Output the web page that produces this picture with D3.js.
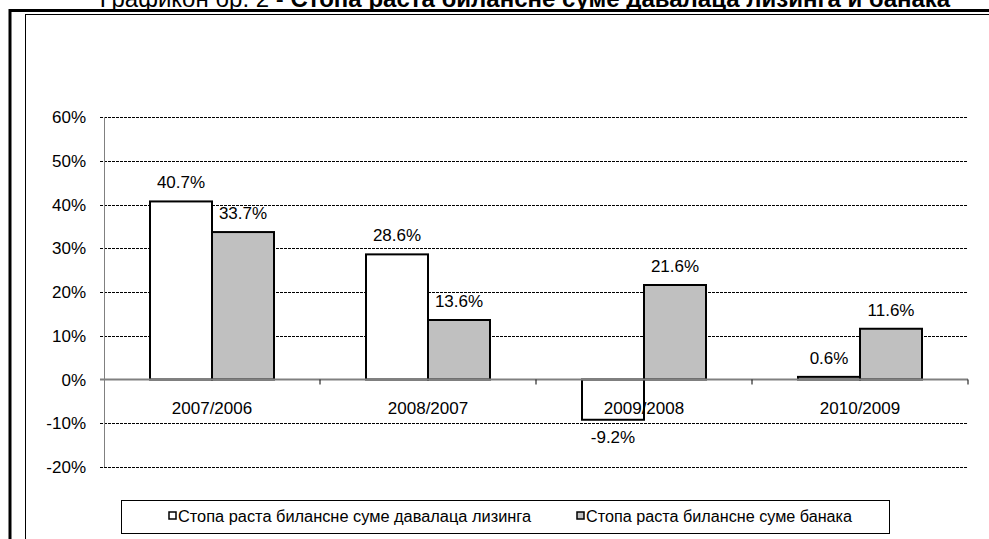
<!DOCTYPE html>
<html>
<head>
<meta charset="utf-8">
<script src="https://cdn.jsdelivr.net/npm/d3@7"></script>
<style>
  body { margin: 0; background: #fff; }
  svg { display: block; font-family: Arial, "Liberation Sans", sans-serif; }
  .grid line { stroke: #000; stroke-width: 1; stroke-dasharray: 3,1; }
</style>
</head>
<body>
<svg id="chart" width="989" height="539"></svg>
<script>
// chart values
const categories = ['2007/2006', '2008/2007', '2009/2008', '2010/2009'];
const leasing = [40.7, 28.6, -9.2, 0.6];
const banks = [33.7, 13.6, 21.6, 11.6];
const yTicks = [-20, -10, 0, 10, 20, 30, 40, 50, 60];
const seriesNames = ['Стопа раста билансне суме давалаца лизинга', 'Стопа раста билансне суме банака'];
const seriesColors = ['#ffffff', '#c0c0c0'];

const svg = d3.select('#chart');

// frame (double border, cut at right and bottom)
svg.append('line').attr('x1', 10).attr('x2', 989).attr('y1', 10.5).attr('y2', 10.5)
    .attr('stroke', '#000').attr('stroke-width', 3);
svg.append('line').attr('x1', 10).attr('x2', 10).attr('y1', 9).attr('y2', 539)
    .attr('stroke', '#000').attr('stroke-width', 3);
svg.append('line').attr('x1', 25).attr('x2', 989).attr('y1', 14.5).attr('y2', 14.5)
    .attr('stroke', '#000').attr('stroke-width', 1);
svg.append('line').attr('x1', 25.5).attr('x2', 25.5).attr('y1', 14).attr('y2', 539)
    .attr('stroke', '#000').attr('stroke-width', 1);

// title, clipped at the top of the page as in the source
const title = svg.append('text').attr('x', 525).attr('y', 7)
    .attr('text-anchor', 'middle').attr('font-size', 24);
title.append('tspan').text('Графикон бр. 2 - ');
title.append('tspan').attr('font-weight', 'bold').text('Стопа раста билансне суме давалаца лизинга и банака');

const left = 104, right = 968;
const y = d3.scaleLinear().domain([-20, 60]).range([467, 117]);
const x = d3.scaleBand().domain(categories).range([left, right]);
const bw = 62;
const pad = (x.bandwidth() - 2 * bw) / 2;

// gridlines + y labels
const grid = svg.append('g').attr('class', 'grid');
grid.selectAll('line').data(yTicks.filter(d => d !== 0)).enter().append('line')
    .attr('x1', left - 4).attr('x2', right)
    .attr('y1', d => Math.round(y(d)) + 0.5).attr('y2', d => Math.round(y(d)) + 0.5);

svg.append('g').selectAll('text').data(yTicks).enter().append('text')
    .attr('x', 86).attr('y', d => y(d) + 6)
    .attr('text-anchor', 'end').attr('font-size', 17)
    .text(d => d + '%');

// y axis
svg.append('line').attr('x1', left + 0.5).attr('x2', left + 0.5)
    .attr('y1', y(60)).attr('y2', y(-20)).attr('stroke', '#808080');

// bars
[leasing, banks].forEach((vals, s) => {
    svg.append('g').selectAll('rect').data(vals).enter().append('rect')
        .attr('x', (d, i) => x(categories[i]) + pad + s * bw)
        .attr('y', d => y(Math.max(0, d)))
        .attr('width', bw)
        .attr('height', d => Math.abs(y(d) - y(0)))
        .attr('fill', seriesColors[s])
        .attr('stroke', '#000').attr('stroke-width', 2);
});

// x axis at zero
svg.append('line').attr('x1', left - 4).attr('x2', right)
    .attr('y1', y(0)).attr('y2', y(0)).attr('stroke', '#808080').attr('stroke-width', 2);
svg.append('g').selectAll('line').data(categories).enter().append('line')
    .attr('x1', d => x(d) + x.bandwidth()).attr('x2', d => x(d) + x.bandwidth())
    .attr('y1', y(0)).attr('y2', y(0) + 5).attr('stroke', '#000');

// category labels
svg.append('g').selectAll('text').data(categories).enter().append('text')
    .attr('x', d => x(d) + x.bandwidth() / 2).attr('y', y(0) + 34)
    .attr('text-anchor', 'middle').attr('font-size', 17)
    .text(d => d);

// data labels
[leasing, banks].forEach((vals, s) => {
    svg.append('g').selectAll('text').data(vals).enter().append('text')
        .attr('x', (d, i) => x(categories[i]) + pad + s * bw + bw / 2)
        .attr('y', d => d >= 0 ? y(d) - 13 : y(d) + 23)
        .attr('text-anchor', 'middle').attr('font-size', 17)
        .text(d => d.toFixed(1) + '%');
});

// legend
svg.append('rect').attr('x', 121.5).attr('y', 500.5).attr('width', 768).attr('height', 33)
    .attr('fill', '#fff').attr('stroke', '#000');
const legendX = [169, 577];
const legendW = [353, 266];
seriesNames.forEach((name, s) => {
    svg.append('rect').attr('x', legendX[s]).attr('y', 512).attr('width', 7).attr('height', 7)
        .attr('fill', seriesColors[s]).attr('stroke', '#000').attr('stroke-width', 1.5);
    svg.append('text').attr('x', legendX[s] + 9).attr('y', 522)
        .attr('font-size', 16)
        .attr('textLength', legendW[s]).attr('lengthAdjust', 'spacingAndGlyphs')
        .text(name);
});
</script>
</body>
</html>
